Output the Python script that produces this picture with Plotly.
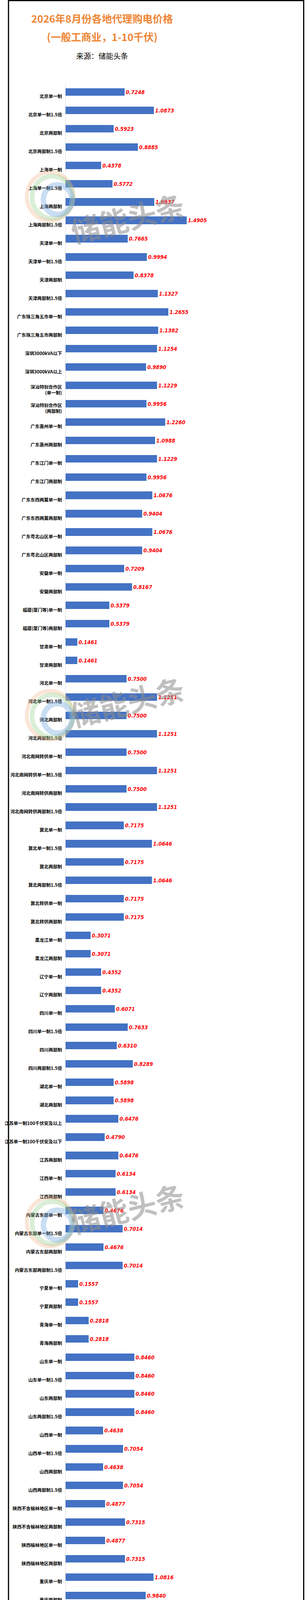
import plotly.graph_objects as go

# ----------------- data -----------------
title_line1 = "2026年8月份各地代理购电价格"
title_line2 = "(一般工商业，1-10千伏)"
source_text = "来源：储能头条"
watermark_text = "储能头条"

regions = [
    "北京单一制", "北京单一制1.5倍", "北京两部制", "北京两部制1.5倍",
    "上海单一制", "上海单一制1.5倍", "上海两部制", "上海两部制1.5倍",
    "天津单一制", "天津单一制1.5倍", "天津两部制", "天津两部制1.5倍",
    "广东珠三角五市单一制", "广东珠三角五市两部制",
    "深圳3000kVA以下", "深圳3000kVA以上",
    "深汕特别合作区<br>(单一制)", "深汕特别合作区<br>(两部制)",
    "广东惠州单一制", "广东惠州两部制", "广东江门单一制", "广东江门两部制",
    "广东东西两翼单一制", "广东东西两翼两部制",
    "广东粤北山区单一制", "广东粤北山区两部制",
    "安徽单一制", "安徽两部制",
    "福建(厦门等)单一制", "福建(厦门等)两部制",
    "甘肃单一制", "甘肃两部制",
    "河北单一制", "河北单一制1.5倍", "河北两部制", "河北两部制1.5倍",
    "河北南网转供单一制", "河北南网转供单一制1.5倍",
    "河北南网转供两部制", "河北南网转供两部制1.5倍",
    "冀北单一制", "冀北单一制1.5倍", "冀北两部制", "冀北两部制1.5倍",
    "冀北转供单一制", "冀北转供两部制",
    "黑龙江单一制", "黑龙江两部制",
    "辽宁单一制", "辽宁两部制",
    "四川单一制", "四川单一制1.5倍", "四川两部制", "四川两部制1.5倍",
    "湖北单一制", "湖北两部制",
    "江苏单一制100千伏安及以上", "江苏单一制100千伏安及以下", "江苏两部制",
    "江西单一制", "江西两部制",
    "内蒙古东部单一制", "内蒙古东部单一制1.5倍",
    "内蒙古东部两部制", "内蒙古东部两部制1.5倍",
    "宁夏单一制", "宁夏两部制",
    "青海单一制", "青海两部制",
    "山东单一制", "山东单一制1.5倍", "山东两部制", "山东两部制1.5倍",
    "山西单一制", "山西单一制1.5倍", "山西两部制", "山西两部制1.5倍",
    "陕西不含榆林地区单一制", "陕西不含榆林地区两部制",
    "陕西榆林地区单一制", "陕西榆林地区两部制",
    "重庆单一制", "重庆两部制",
    "浙江单一制", "浙江单一制1.5倍", "浙江两部制", "浙江两部制1.5倍",
    "广西单一制", "广西单一制1.5倍", "广西两部制", "广西两部制1.5倍",
    "贵州单一制", "贵州两部制",
    "新疆单一制", "新疆单一制1.5倍", "新疆两部制", "新疆两部制1.5倍",
]

prices = [
    0.7248, 1.0873, 0.5923, 0.8885,
    0.4378, 0.5772, 1.0937, 1.4905,
    0.7665, 0.9994, 0.8378, 1.1327,
    1.2655, 1.1382,
    1.1254, 0.9890,
    1.1229, 0.9956,
    1.2260, 1.0988, 1.1229, 0.9956,
    1.0676, 0.9404,
    1.0676, 0.9404,
    0.7209, 0.8167,
    0.5379, 0.5379,
    0.1461, 0.1461,
    0.7500, 1.1251, 0.7500, 1.1251,
    0.7500, 1.1251,
    0.7500, 1.1251,
    0.7175, 1.0646, 0.7175, 1.0646,
    0.7175, 0.7175,
    0.3071, 0.3071,
    0.4352, 0.4352,
    0.6071, 0.7633, 0.6310, 0.8289,
    0.5898, 0.5898,
    0.6476, 0.4790, 0.6476,
    0.6134, 0.6134,
    0.4676, 0.7014,
    0.4676, 0.7014,
    0.1557, 0.1557,
    0.2818, 0.2818,
    0.8460, 0.8460, 0.8460, 0.8460,
    0.4638, 0.7054, 0.4638, 0.7054,
    0.4877, 0.7315,
    0.4877, 0.7315,
    1.0816, 0.9840,
    0.7849, 0.7849, 0.7849, 1.1296,
    0.3629, 0.5444, 0.3629, 0.5444,
    0.4774, 0.7053,
    0.2568, 0.3852, 0.2568, 0.3852,
]

# ----------------- layout constants -----------------
W, H = 786, 4791
ML, MR, MT, MB = 153, 202, 212, 26
PW, PH = W - ML - MR, H - MT - MB
X_MAX = 2.0

CJK = "Noto Sans CJK SC, Noto Sans, sans-serif"
NUM_FONT = "Liberation Sans Narrow, DejaVu Sans Condensed, Roboto, Noto Sans CJK SC, sans-serif"


def paper_xy(xp, yp):
    # pixel position on the page -> paper coordinates
    return (xp - ML) / PW, (H - MB - yp) / PH


pos = list(range(len(regions)))

# ----------------- figure -----------------
fig = go.Figure(go.Bar(
    x=prices, y=pos, orientation="h",
    width=0.41, offset=-0.46,            # bar sits a bit above its label, like the Excel source
    marker=dict(color="#4472C4", line_width=0),
    texttemplate="%{x:.4f}", textposition="outside",
    textfont=dict(color="#FF0000", size=14, family=NUM_FONT, style="italic", weight="bold"),
    cliponaxis=False,
    customdata=[r.replace("<br>", "") for r in regions],
    hovertemplate="%{customdata}: %{x:.4f}<extra></extra>",
))

fig.update_layout(
    width=W, height=H,
    margin=dict(l=ML, r=MR, t=MT, b=MB, pad=0),
    paper_bgcolor="white", plot_bgcolor="white",
    showlegend=False, bargap=0,
    font=dict(family=CJK, color="#000000"),
)
fig.update_xaxes(range=[0, X_MAX], visible=False, showgrid=False)
fig.update_yaxes(
    range=[len(regions) - 0.755, -0.755],
    tickmode="array", tickvals=pos, ticktext=regions,
    tickfont=dict(family=CJK, size=11.5, color="#000000", weight="bold"),
    ticks="", showgrid=False, zeroline=False,
    showline=True, linecolor="#D9D9D9", linewidth=1,
    ticklabelstandoff=6,
)

# titles
for txt, yp, size, color, weight in [
    (title_line1, 47, 26, "#EE8535", "bold"),
    (title_line2, 93, 26, "#EE8535", "bold"),
    (source_text, 143, 19, "#000000", "normal"),
]:
    xx, yy = paper_xy(250, yp)
    fig.add_annotation(
        text=txt, x=xx, y=yy, xref="paper", yref="paper",
        xanchor="center", yanchor="middle", showarrow=False,
        font=dict(family=CJK, size=size, color=color, weight=weight),
    )

# watermark: logo rings + rotated text
for yc in [465, 1793, 3090, 4450]:
    for cx, cy, r, col, lw in [
        (112, yc + 38, 62, "rgba(240,170,120,0.30)", 10),
        (118, yc + 40, 54, "rgba(150,205,140,0.35)", 12),
        (132, yc + 46, 38, "rgba(120,170,225,0.40)", 14),
    ]:
        x0, y0 = paper_xy(cx - r, cy + r)
        x1, y1 = paper_xy(cx + r, cy - r)
        fig.add_shape(type="circle", xref="paper", yref="paper",
                      x0=x0, y0=y0, x1=x1, y1=y1,
                      line=dict(color=col, width=lw), layer="above")
    xx, yy = paper_xy(317, yc)
    fig.add_annotation(
        text=watermark_text, x=xx, y=yy, xref="paper", yref="paper",
        showarrow=False, textangle=-14,
        font=dict(family=CJK, size=74, color="rgba(140,140,140,0.55)", weight="bold"),
    )

# black frame round the picture
x0, y0 = paper_xy(1.5, H - 1.5)
x1, y1 = paper_xy(W - 1.5, 1.5)
fig.add_shape(type="rect", xref="paper", yref="paper", x0=x0, y0=y0, x1=x1, y1=y1,
              line=dict(color="#000000", width=3), layer="above")

# no default body margin, so the figure sits flush in the 786px window
fig.write_html("out.html", config={"displayModeBar": False},
               post_script="document.body.style.margin = '0';")
